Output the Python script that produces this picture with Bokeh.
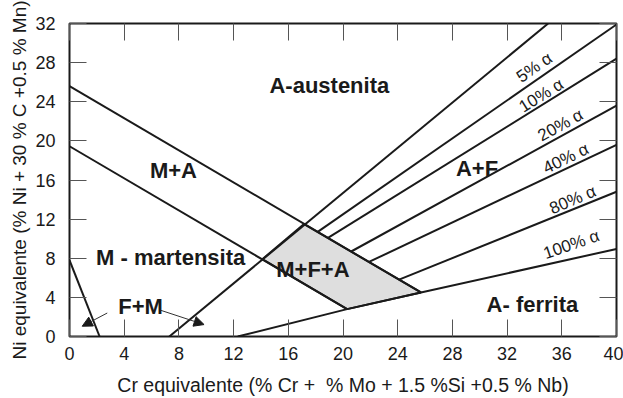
from bokeh.plotting import figure
from bokeh.models import LinearAxis, Range1d, Arrow, NormalHead, FixedTicker
from bokeh.core.properties import value
from bokeh.embed import file_html
from bokeh.resources import INLINE
import math

# ---- data (Schaeffler diagram) ----
x_ticks = [0, 4, 8, 12, 16, 20, 24, 28, 32, 36, 40]
y_ticks = [0, 4, 8, 12, 16, 20, 24, 28, 32]

# main phase boundaries (polylines)
boundary_xs = [[0, 25.7], [0, 20.3], [0, 2.2], [7.3, 35.0], [12.3, 20.3, 25.7, 40]]
boundary_ys = [[25.6, 4.5], [19.45, 2.8], [7.8, 0], [0, 32], [0, 2.8, 4.5, 8.95]]

# iso-ferrite lines starting on the A/A+M boundary
ferrite_labels = ["5% α", "10% α", "20% α", "40% α", "80% α", "100% α"]
ferrite_x0 = [18.15, 18.9, 20.6, 21.9, 24.1]
ferrite_y0 = [10.70, 10.08, 8.69, 7.62, 5.81]
ferrite_x1 = [40, 40, 40, 40, 40]
ferrite_y1 = [31.9, 28.4, 23.6, 19.6, 14.8]

# label positions for ferrite %
flab_x = [34.0, 34.5, 35.9, 36.3, 36.8, 36.7]
flab_y = [27.5, 24.65, 21.6, 18.2, 13.96, 9.4]
flab_angle = [35, 32, 29, 26, 23, 19]

# M+F+A region
mfa_x = [14.1, 17.15, 25.7, 20.3]
mfa_y = [7.9, 11.5, 4.5, 2.8]

# region labels
region_text = ["A-austenita", "M+A", "A+F", "M - martensita", "M+F+A", "F+M", "A- ferrita"]
region_x = [19.0, 7.6, 29.8, 7.4, 17.8, 5.2, 33.85]
region_y = [25.7, 17.0, 17.2, 8.05, 6.8, 3.05, 3.3]

# F+M arrows (start -> head)
arrow_x0 = [2.76, 6.67]
arrow_y0 = [2.4, 2.68]
arrow_x1 = [0.93, 9.84]
arrow_y1 = [1.05, 1.22]

FONT = "Liberation Sans"
INK = "#1a1a1a"

p = figure(width=623, height=398, x_range=Range1d(0, 40), y_range=Range1d(0, 32),
           output_backend="svg", toolbar_location=None,
           min_border_left=69, min_border_right=7, min_border_top=23, min_border_bottom=61)

p.xgrid.visible = False
p.ygrid.visible = False
p.outline_line_color = INK
p.outline_line_width = 2
p.background_fill_color = "white"
p.border_fill_color = "white"

def style_axis(ax, ticks, show_labels):
    ax.ticker = FixedTicker(ticks=ticks)
    ax.axis_line_color = None
    ax.major_tick_in = 17
    ax.major_tick_out = 0
    ax.major_tick_line_color = "#555555"
    ax.major_tick_line_width = 1
    ax.minor_tick_line_color = None
    if show_labels:
        ax.major_label_text_font = FONT
        ax.major_label_text_font_size = "18px"
        ax.major_label_text_color = INK
    else:
        ax.major_label_text_color = None
        ax.major_label_standoff = 0

xa = p.xaxis[0]
ya = p.yaxis[0]
style_axis(xa, x_ticks, True)
style_axis(ya, y_ticks, True)
xa.major_label_standoff = 10
ya.major_label_standoff = 14
xa.axis_label = "Cr equivalente (% Cr + \u00a0% Mo + 1.5 %Si +0.5 % Nb)"
ya.axis_label = "Ni equivalente (% Ni + 30 % C +0.5 % Mn)"
for ax in (xa, ya):
    ax.axis_label_text_font = FONT
    ax.axis_label_text_font_style = "normal"
    ax.axis_label_text_color = INK
xa.axis_label_text_font_size = "19.5px"
ya.axis_label_text_font_size = "19px"
xa.axis_label_standoff = 11
ya.axis_label_standoff = 2

top_ax = LinearAxis()
right_ax = LinearAxis()
style_axis(top_ax, x_ticks, False)
style_axis(right_ax, y_ticks, False)
p.add_layout(top_ax, "above")
p.add_layout(right_ax, "right")

# M+F+A shaded region
p.patch(mfa_x, mfa_y, fill_color="#dedede", line_color=INK, line_width=2)

# boundaries
p.multi_line(boundary_xs, boundary_ys, line_color=INK, line_width=2)
p.segment(x0=ferrite_x0, y0=ferrite_y0, x1=ferrite_x1, y1=ferrite_y1, line_color=INK, line_width=2)

# ferrite labels
p.text(x=flab_x, y=flab_y, text=ferrite_labels, angle=[math.radians(a) for a in flab_angle],
       text_align="center", text_baseline="middle", text_font=value(FONT),
       text_font_size="17px", text_color=INK)

# region labels
p.text(x=region_x, y=region_y, text=region_text, text_align="center", text_baseline="middle",
       text_font=value(FONT), text_font_style="bold", text_font_size="22px", text_color=INK)

# arrows
for x0, y0, x1, y1 in zip(arrow_x0, arrow_y0, arrow_x1, arrow_y1):
    p.add_layout(Arrow(end=NormalHead(size=10, fill_color=INK, line_color=INK),
                       x_start=x0, y_start=y0, x_end=x1, y_end=y1,
                       line_color="#333333", line_width=1))

open("out.html", "w").write(file_html(p, INLINE))
